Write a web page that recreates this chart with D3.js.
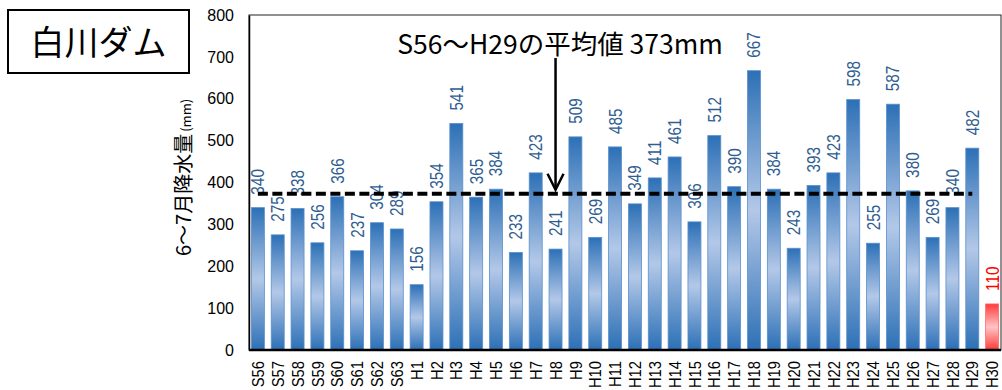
<!DOCTYPE html>
<html>
<head>
<meta charset="utf-8">
<script src="https://cdn.jsdelivr.net/npm/d3@7"></script>
<style>
  html, body { margin: 0; padding: 0; background: #fff; }
  svg { display: block; }
</style>
</head>
<body>
<svg id="chart" width="1002" height="390"></svg>
<script>
// 白川ダム 6～7月降水量 (S56〜H30)
const categories = ["S56","S57","S58","S59","S60","S61","S62","S63",
  "H1","H2","H3","H4","H5","H6","H7","H8","H9","H10","H11","H12","H13","H14","H15",
  "H16","H17","H18","H19","H20","H21","H22","H23","H24","H25","H26","H27","H28","H29","H30"];
const rainfall = [340,275,338,256,366,237,304,289,
  156,354,541,365,384,233,423,241,509,269,485,349,411,461,306,
  512,390,667,384,243,393,423,598,255,587,380,269,340,482,110];
const currentYear = "H30";
const averageValue = 373;
const averageFrom = "S56";
const averageTo = "H29";
const yTicks = [0,100,200,300,400,500,600,700,800];
const titleText = "白川ダム";
const yAxisTitle = "6～7月降水量";
const yAxisUnit = "(mm)";
const averageLabel = "S56～H29の平均値 373mm";

const svg = d3.select("#chart");
const plot = { left: 249, right: 1001, top: 15, bottom: 350 };

const x = d3.scaleBand()
  .domain(categories)
  .range([248, 1002])
  .paddingInner(0.345)
  .paddingOuter(0.17);
const y = d3.scaleLinear().domain([0, 800]).range([plot.bottom, plot.top]);

// Gradients: dark at both ends, light in the middle
const defs = svg.append("defs");
function addGradient(id, dark, light) {
  const g = defs.append("linearGradient")
    .attr("id", id).attr("x1", 0).attr("y1", 0).attr("x2", 0).attr("y2", 1);
  g.append("stop").attr("offset", "0%").attr("stop-color", dark);
  g.append("stop").attr("offset", "50%").attr("stop-color", light);
  g.append("stop").attr("offset", "100%").attr("stop-color", dark);
}
addGradient("gradBlue", "#2c70b6", "#b3c8e8");
addGradient("gradRed", "#ff3b3b", "#ffc4c4");

// Plot frame
svg.append("rect")
  .attr("x", plot.left).attr("y", plot.top)
  .attr("width", plot.right - plot.left).attr("height", plot.bottom - plot.top)
  .attr("fill", "none").attr("stroke", "#222").attr("stroke-width", 1);

// Bars
svg.append("g").selectAll("rect")
  .data(categories.map((c, i) => ({ c, v: rainfall[i] })))
  .join("rect")
  .attr("x", d => x(d.c))
  .attr("y", d => y(d.v))
  .attr("width", x.bandwidth())
  .attr("height", d => y(0) - y(d.v))
  .attr("fill", d => d.c === currentYear ? "url(#gradRed)" : "url(#gradBlue)")
  .attr("stroke", d => d.c === currentYear ? "#ff6a6a" : "#5a90cc")
  .attr("stroke-width", 0.8);

// Value labels (rotated)
svg.append("g").selectAll("text")
  .data(categories.map((c, i) => ({ c, v: rainfall[i] })))
  .join("text")
  .attr("transform", d => `translate(${x(d.c) + x.bandwidth() / 2},${y(d.v) - 13}) rotate(-90) scale(0.85,1)`)
  .attr("text-anchor", "start")
  .attr("dy", "0.36em")
  .attr("font-family", "'Liberation Sans', Arial, sans-serif")
  .attr("font-size", 18)
  .attr("fill", d => d.c === currentYear ? "#ff0000" : "#2f5d91")
  .text(d => d.v);

// Average dashed line
svg.append("line")
  .attr("x1", x(averageFrom) + x.bandwidth() / 2)
  .attr("x2", x(averageTo) + x.bandwidth() / 2)
  .attr("y1", y(averageValue)).attr("y2", y(averageValue))
  .attr("stroke", "#000").attr("stroke-width", 4)
  .attr("stroke-dasharray", "10,4.5");

// Bottom axis line
svg.append("line")
  .attr("x1", plot.left).attr("x2", plot.right)
  .attr("y1", plot.bottom).attr("y2", plot.bottom)
  .attr("stroke", "#000").attr("stroke-width", 2.5);

// Y axis tick labels
const yAxis = d3.axisLeft(y).tickValues(yTicks).tickSize(0).tickPadding(15);
const yg = svg.append("g").attr("transform", `translate(${plot.left},0)`).call(yAxis);
yg.select(".domain").attr("stroke", "#000").attr("stroke-width", 1.5);
yg.selectAll("text")
  .attr("font-family", "'Liberation Sans', Arial, sans-serif")
  .attr("font-size", 16).attr("fill", "#000");

// X axis category labels (rotated)
svg.append("g").selectAll("text")
  .data(categories)
  .join("text")
  .attr("transform", d => `translate(${x(d) + x.bandwidth() / 2},361) rotate(-90) scale(0.87,1)`)
  .attr("text-anchor", "end")
  .attr("dy", "0.36em")
  .attr("font-family", "'Liberation Sans', Arial, sans-serif")
  .attr("font-size", 17)
  .attr("fill", "#000")
  .text(d => d);

// Y axis title
const yt = svg.append("text")
  .attr("transform", "translate(185,256) rotate(-90)")
  .attr("text-anchor", "start")
  .attr("dy", "0.36em")
  .attr("font-family", "'Noto Sans CJK JP', sans-serif")
  .attr("fill", "#000");
yt.append("tspan").attr("font-size", 20).text(yAxisTitle);
yt.append("tspan").attr("font-size", 13).attr("dx", 2).text(yAxisUnit);

// Title box
svg.append("rect")
  .attr("x", 8).attr("y", 10).attr("width", 181).attr("height", 63)
  .attr("fill", "#fff").attr("stroke", "#000").attr("stroke-width", 2);
svg.append("text")
  .attr("x", 98.5).attr("y", 43)
  .attr("text-anchor", "middle").attr("dy", "0.36em")
  .attr("font-family", "'Noto Sans CJK JP', sans-serif")
  .attr("font-size", 34).attr("fill", "#000")
  .text(titleText);

// Average annotation and arrow
const arrowX = x("H8") + x.bandwidth() / 2;
svg.append("text")
  .attr("x", 560).attr("y", 54)
  .attr("text-anchor", "middle")
  .attr("font-family", "'Noto Sans CJK JP', sans-serif")
  .attr("font-size", 26.5).attr("fill", "#000")
  .text(averageLabel);
svg.append("line")
  .attr("x1", arrowX).attr("x2", arrowX)
  .attr("y1", 58).attr("y2", y(averageValue) - 4)
  .attr("stroke", "#000").attr("stroke-width", 2.5);
svg.append("path")
  .attr("d", `M${arrowX - 8},${y(averageValue) - 20} L${arrowX},${y(averageValue) - 4} L${arrowX + 8},${y(averageValue) - 20}`)
  .attr("fill", "none").attr("stroke", "#000").attr("stroke-width", 2.5);
</script>
</body>
</html>
